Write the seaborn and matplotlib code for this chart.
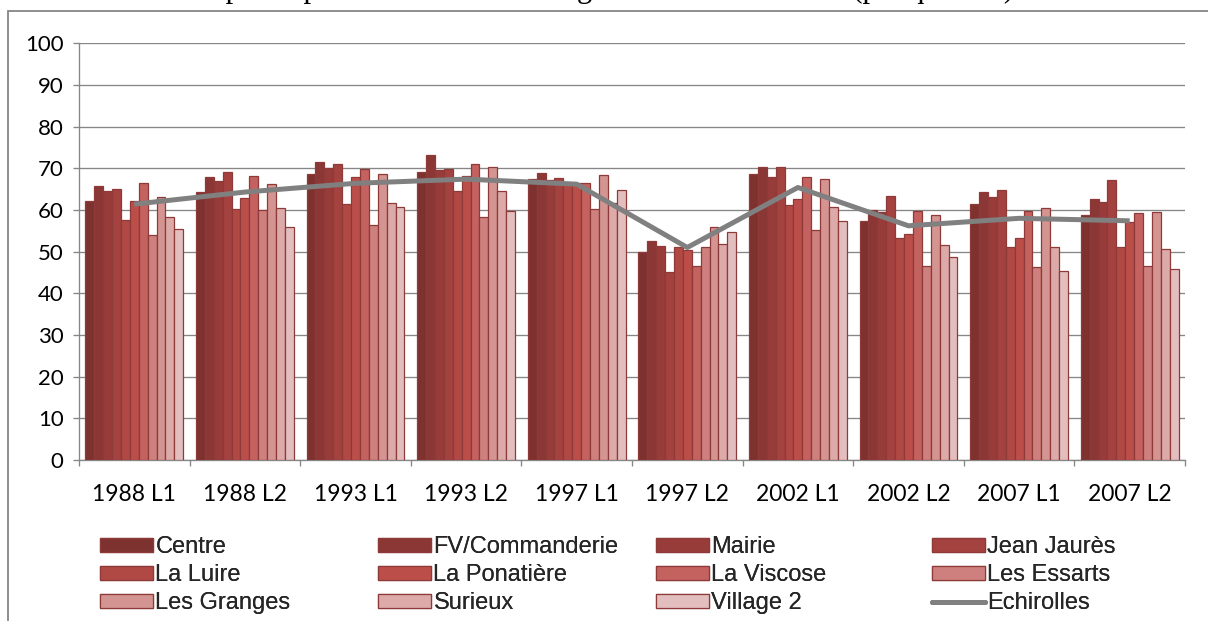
import numpy as np
import pandas as pd
import matplotlib
matplotlib.use("Agg")
import matplotlib.pyplot as plt
from matplotlib.patches import Rectangle, Patch
from matplotlib.lines import Line2D
import seaborn as sns

# ---------------- data ----------------
scrutins = ["1988 L1", "1988 L2", "1993 L1", "1993 L2", "1997 L1",
            "1997 L2", "2002 L1", "2002 L2", "2007 L1", "2007 L2"]
quartiers = ["Centre", "FV/Commanderie", "Mairie", "Jean Jaurès", "La Luire",
             "La Ponatière", "La Viscose", "Les Essarts", "Les Granges",
             "Surieux", "Village 2"]

centre       = [62.2, 64.2, 68.6, 69.1, 67.4, 49.9, 68.6, 57.4, 61.4, 58.8]
fv_command   = [65.8, 67.8, 71.4, 73.3, 68.8, 52.6, 70.3, 60.0, 64.4, 62.6]
mairie       = [64.5, 67.0, 70.0, 69.6, 67.2, 51.4, 67.8, 59.6, 63.0, 61.8]
jean_jaures  = [65.1, 69.2, 71.0, 69.8, 67.6, 45.2, 70.2, 63.4, 64.8, 67.2]
la_luire     = [57.5, 60.2, 61.4, 64.5, 66.4, 51.0, 61.2, 53.2, 51.0, 51.2]
la_ponatiere = [62.2, 62.8, 67.8, 68.1, 66.4, 50.4, 62.6, 54.2, 53.3, 57.0]
la_viscose   = [66.4, 68.2, 69.8, 71.1, 66.4, 46.6, 67.8, 59.8, 59.7, 59.2]
les_essarts  = [54.1, 59.9, 56.5, 58.2, 60.3, 51.2, 55.2, 46.6, 46.2, 46.6]
les_granges  = [63.2, 66.3, 68.7, 70.2, 68.5, 56.0, 67.4, 58.7, 60.5, 59.4]
surieux      = [58.3, 60.5, 61.6, 64.5, 61.6, 51.9, 60.6, 51.6, 51.1, 50.7]
village_2    = [55.5, 56.0, 60.6, 59.8, 64.7, 54.7, 57.4, 48.6, 45.4, 45.8]
echirolles   = [61.4, 64.3, 66.4, 67.4, 66.2, 51.0, 65.4, 56.2, 58.0, 57.4]

series = [centre, fv_command, mairie, jean_jaures, la_luire, la_ponatiere,
          la_viscose, les_essarts, les_granges, surieux, village_2]

title = "Taux de participation aux élections législatives à Echirolles (par quartier)"

# ---------------- styling ----------------
colors = ["#7E3230", "#8B3735", "#983C3A", "#A4423F", "#B04844", "#BC4E4A",
          "#C4625F", "#CD807D", "#D49592", "#DBAAA9", "#E2BFBE"]
edge = "#8E3A38"
grid_c = "#868686"
line_c = "#808080"

rows = []
for q, vals in zip(quartiers, series):
    for s, v in zip(scrutins, vals):
        rows.append({"scrutin": s, "quartier": q, "taux": v})
df = pd.DataFrame(rows)

sns.set_theme(style="white")
W, H = 1208, 621
fig = plt.figure(figsize=(W / 100, H / 100), dpi=100)
ax = fig.add_axes([79 / W, 1 - 460 / H, (1185 - 79) / W, (460 - 43.3) / H])

sns.barplot(data=df, x="scrutin", y="taux", hue="quartier", order=scrutins,
            hue_order=quartiers, palette=colors, saturation=1, width=0.886,
            gap=0, errorbar=None, edgecolor=edge, linewidth=0.9, legend=False,
            ax=ax, zorder=3)

sns.lineplot(x=np.arange(len(scrutins)), y=echirolles, color=line_c,
             linewidth=3.6, ax=ax, zorder=5, solid_capstyle="butt")

ax.set_xlim(-0.5, len(scrutins) - 0.5)
ax.set_ylim(0, 100)
ax.set_yticks(np.arange(0, 101, 10))
ax.yaxis.grid(True, color=grid_c, linewidth=0.95, zorder=0)
ax.set_axisbelow(True)
ax.set_xlabel("")
ax.set_ylabel("")
for sp in ["top", "right"]:
    ax.spines[sp].set_visible(False)
for sp in ["left", "bottom"]:
    ax.spines[sp].set_color(grid_c)
    ax.spines[sp].set_linewidth(0.95)

tick_font = "Lato"
ax.set_xticks(np.arange(len(scrutins)))
ax.set_xticklabels(scrutins, fontfamily=tick_font, fontsize=16.5, color="black")
ax.set_xticks(np.arange(-0.5, len(scrutins)), minor=True)
ax.tick_params(axis="x", which="major", length=0, pad=17)
ax.tick_params(axis="x", which="minor", length=4.5, width=0.95, color=grid_c,
               direction="out", bottom=True)
ax.tick_params(axis="y", length=4.5, width=0.95, color=grid_c, direction="out",
               left=True, pad=6.5, labelsize=16)
for lab in ax.get_yticklabels():
    lab.set_fontfamily(tick_font)
    lab.set_color("black")

# outer chart border (partly off-canvas)
fig.patches.append(Rectangle((8 / W, -0.05), 1.1, 1 - 11 / H + 0.05,
                             transform=fig.transFigure, fill=False,
                             edgecolor=grid_c, linewidth=1.3, zorder=0))

# title, cropped at the top of the canvas as in the reference
fig.text(121 / W, 1 + 3 / H, title, ha="left", va="baseline",
         fontfamily="Liberation Serif", fontsize=22, color="black")

# legend: 4 columns, entries in row-major order
handles = [Patch(facecolor=c, edgecolor=edge, linewidth=0.9) for c in colors]
handles.append(Line2D([0], [0], color=line_c, linewidth=3.6,
                      solid_capstyle="round"))
labels = quartiers + ["Echirolles"]
col_x = [100, 378, 656, 932]
for ci, cx in enumerate(col_x):
    idx = [r * 4 + ci for r in range(3)]
    leg = fig.legend([handles[i] for i in idx], [labels[i] for i in idx],
                     loc="upper left", bbox_to_anchor=(cx / W, 1 - 536 / H),
                     frameon=False, borderpad=0, borderaxespad=0,
                     handlelength=2.25, handleheight=0.55, handletextpad=0.1,
                     labelspacing=0.26,
                     prop={"family": "Liberation Sans", "size": 17})
    fig.add_artist(leg)

fig.savefig("out.png", dpi=100)
